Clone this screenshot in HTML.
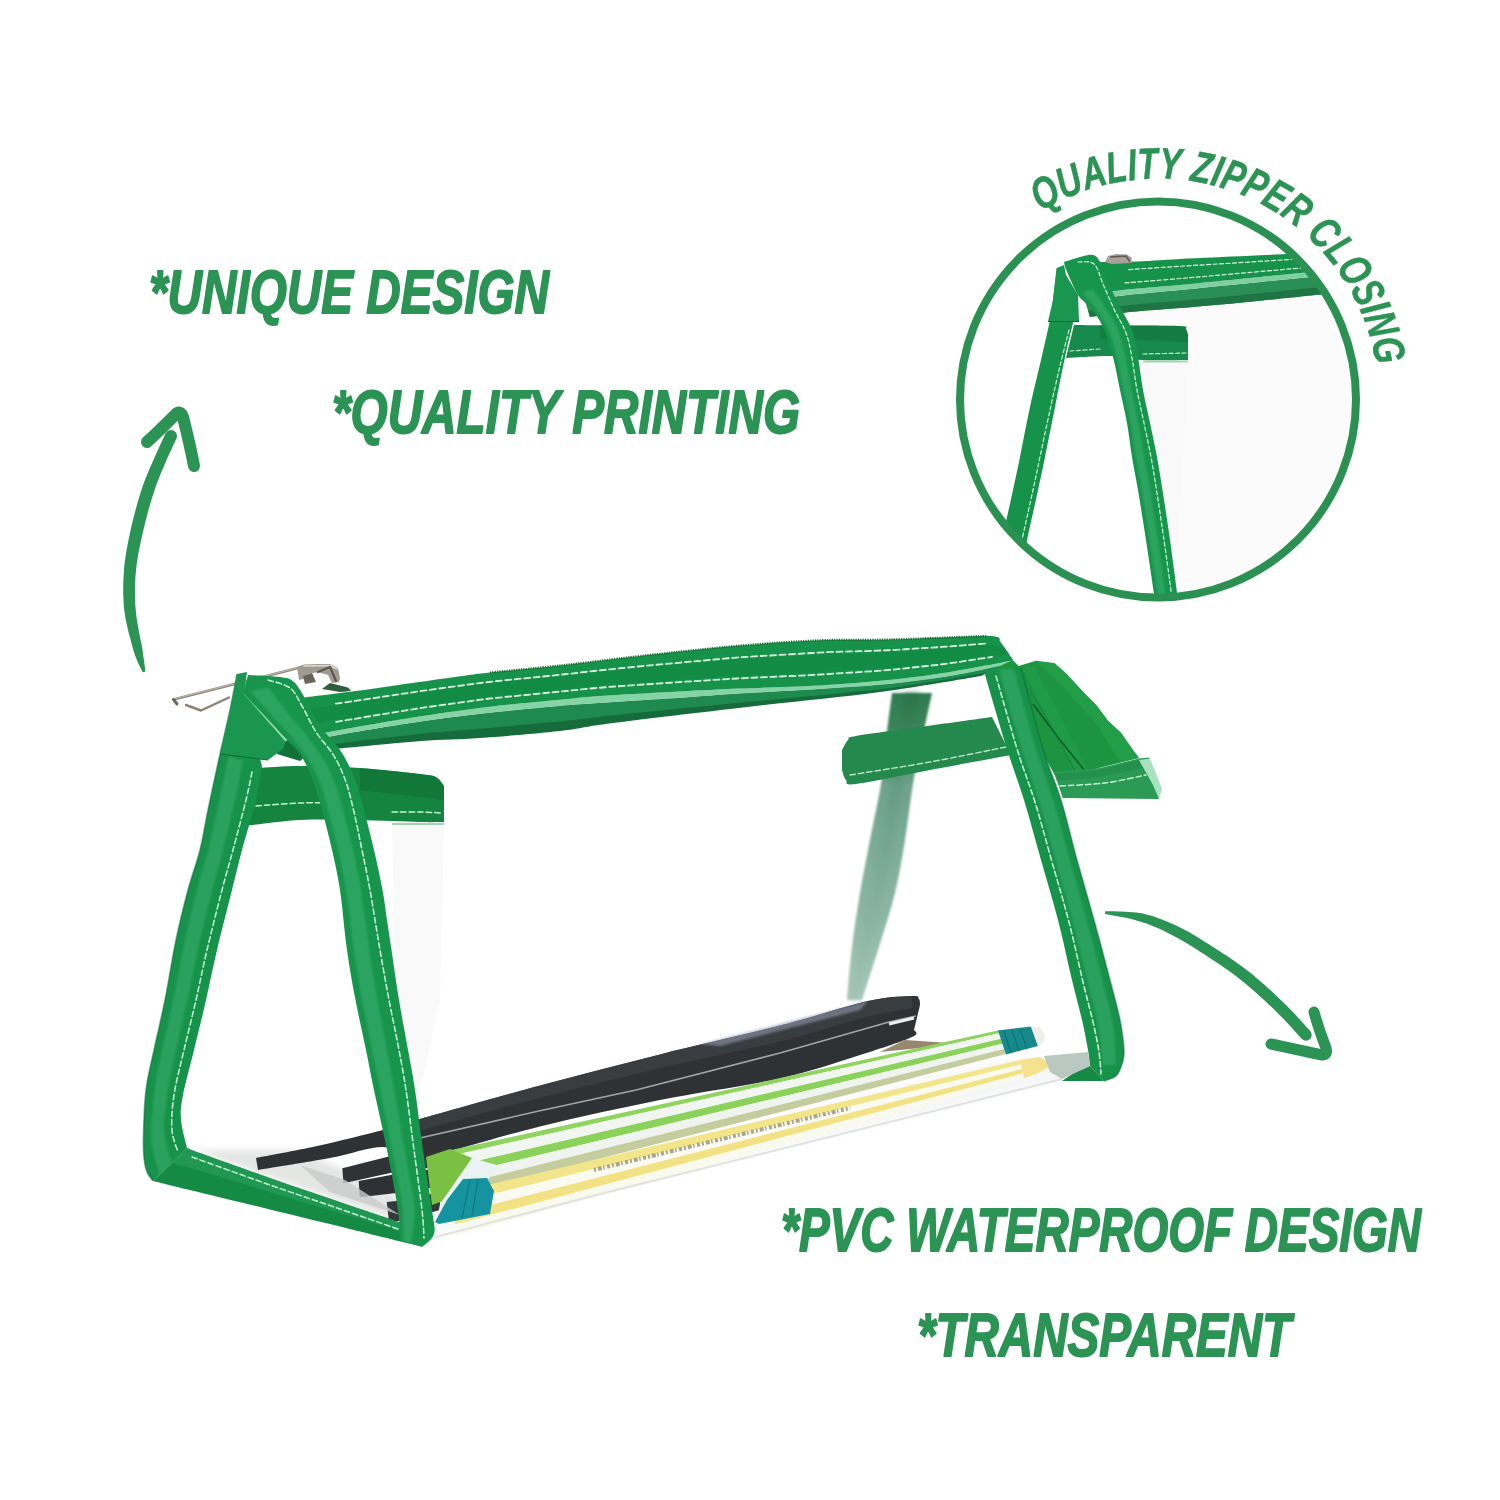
<!DOCTYPE html>
<html>
<head>
<meta charset="utf-8">
<title>Clear PVC pencil case</title>
<style>
html,body{margin:0;padding:0;background:#fff;}
body{width:1500px;height:1500px;overflow:hidden;font-family:"Liberation Sans",sans-serif;}
svg{display:block;}
.t{font-family:"Liberation Sans",sans-serif;font-weight:bold;font-style:italic;fill:#2b9354;stroke:#2b9354;stroke-width:1.8px;stroke-linejoin:round;}
</style>
</head>
<body>
<svg width="1500" height="1500" viewBox="0 0 1500 1500">
<defs>
  <filter id="blur3" x="-20%" y="-20%" width="140%" height="140%"><feGaussianBlur stdDeviation="3"/></filter>
  <filter id="blur6" x="-20%" y="-20%" width="140%" height="140%"><feGaussianBlur stdDeviation="6"/></filter>
  <filter id="blur1" x="-20%" y="-20%" width="140%" height="140%"><feGaussianBlur stdDeviation="1.2"/></filter>
  <linearGradient id="gSeam" gradientUnits="userSpaceOnUse" x1="0" y1="693" x2="0" y2="1000">
    <stop offset="0" stop-color="#2f7c50"/><stop offset="0.16" stop-color="#3f8a60"/><stop offset="0.3" stop-color="#6ea28c"/><stop offset="0.75" stop-color="#8fb8a6"/><stop offset="1" stop-color="#a9c9bb"/>
  </linearGradient>
  <linearGradient id="gSeam2" gradientUnits="userSpaceOnUse" x1="0" y1="693" x2="0" y2="1000">
    <stop offset="0" stop-color="#256e44"/><stop offset="0.3" stop-color="#5f9780"/><stop offset="1" stop-color="#9dc0b1"/>
  </linearGradient>
  <clipPath id="circClip"><circle cx="1158" cy="399.5" r="198"/></clipPath>
</defs>
<rect width="1500" height="1500" fill="#ffffff"/>
<g id="bag">
  <!-- pvc faint shading -->
  <path d="M432.0,1235.0 L1062.0,1080.0 L1088.0,1056.0 L1000.0,1060.0 L440.0,1200.0 Z" fill="#eef1ef" opacity=".55" filter="url(#blur3)"/>
  <path d="M190.0,1150.0 L400.0,1222.0 L398.0,1195.0 L300.0,1150.0 Z" fill="#d9dcda" opacity=".7" filter="url(#blur3)"/>
  <!-- back seam -->
  <path d="M892.0,693.0 C891.0,700.8 887.8,724.8 886.0,740.0 C884.2,755.2 883.7,767.3 881.0,784.0 C878.3,800.7 873.5,821.8 870.0,840.0 C866.5,858.2 863.0,875.2 860.0,893.0 C857.0,910.8 854.2,929.2 852.0,947.0 C849.8,964.8 847.8,991.2 847.0,1000.0 L862.0,1000.0 C864.8,991.2 873.5,964.8 879.0,947.0 C884.5,929.2 890.7,910.8 895.0,893.0 C899.3,875.2 902.0,858.2 905.0,840.0 C908.0,821.8 910.2,800.7 913.0,784.0 C915.8,767.3 918.8,755.2 922.0,740.0 C925.2,724.8 930.3,700.8 932.0,693.0 Z" fill="url(#gSeam)" filter="url(#blur1)"/>
  <path d="M904.0,693.0 C902.8,700.8 899.0,724.8 896.8,740.0 C894.6,755.2 893.3,767.3 890.6,784.0 C887.9,800.7 883.9,821.8 880.5,840.0 C877.1,858.2 873.9,875.2 870.5,893.0 C867.1,910.8 863.3,929.2 860.1,947.0 C856.9,964.8 852.9,991.2 851.5,1000.0 L857.5,1000.0 C859.7,991.2 866.4,964.8 870.9,947.0 C875.4,929.2 880.6,910.8 884.5,893.0 C888.4,875.2 891.4,858.2 894.5,840.0 C897.6,821.8 900.6,800.7 903.4,784.0 C906.2,767.3 908.4,755.2 911.2,740.0 C914.0,724.8 918.5,700.8 920.0,693.0 Z" fill="url(#gSeam2)" filter="url(#blur3)" opacity=".6"/>
  <!-- contents -->
  <path d="M256.0,1158.0 C266.2,1156.0 295.8,1150.7 317.0,1146.0 C338.2,1141.3 365.8,1134.5 383.0,1130.0 C400.2,1125.5 393.8,1126.4 420.0,1119.0 C446.2,1111.6 500.0,1096.4 540.0,1085.6 C580.0,1074.8 620.0,1064.4 660.0,1054.4 C700.0,1044.4 745.3,1034.5 780.0,1025.6 C814.7,1016.7 846.0,1005.9 868.0,1001.0 C890.0,996.1 903.5,996.3 912.0,996.0 C920.5,995.7 917.7,997.5 919.0,999.0 C920.3,1000.5 919.8,1004.0 920.0,1005.0 L914.0,1030.0 C913.7,1031.2 921.0,1032.8 912.0,1037.0 C903.0,1041.2 882.0,1048.1 860.0,1055.0 C838.0,1061.9 813.3,1070.9 780.0,1078.4 C746.7,1085.9 700.0,1092.0 660.0,1100.0 C620.0,1108.0 580.0,1116.8 540.0,1126.4 C500.0,1136.0 446.2,1154.2 420.0,1157.6 C393.8,1161.0 398.0,1146.9 383.0,1147.0 C368.0,1147.1 350.8,1154.2 330.0,1158.0 C309.2,1161.8 270.0,1168.0 258.0,1170.0 Z" fill="#2f3235"/>
  <path d="M420.0,1119.0 C440.0,1113.4 500.0,1096.4 540.0,1085.6 C580.0,1074.8 620.0,1064.4 660.0,1054.4 C700.0,1044.4 745.3,1034.5 780.0,1025.6 C814.7,1016.7 846.0,1005.9 868.0,1001.0 C890.0,996.1 904.7,996.8 912.0,996.0 L912.0,1008.3 C904.3,1009.8 887.6,1011.7 865.6,1017.2 C843.6,1022.7 814.3,1033.0 780.0,1041.4 C745.7,1049.9 700.0,1058.7 660.0,1068.1 C620.0,1077.5 580.0,1087.4 540.0,1097.8 C500.0,1108.3 440.0,1125.1 420.0,1130.6 Z" fill="#3d4044" opacity=".8"/>
  <path d="M420,1138 L540,1110.8 L636,1090 L780,1053 L889,1022 L916,1016" fill="none" stroke="#c9cccd" stroke-width="1.6" opacity=".75"/>
  <path d="M889,1024 L914,1018" fill="none" stroke="#eeeeee" stroke-width="3"/>
  <path d="M905.0,1040.0 L950.0,1043.0 L930.0,1047.0 L880.0,1052.0 Z" fill="#7a6a4a" opacity=".8"/>
  <path d="M700.0,1044.0 L868.0,1001.0 L860.0,1010.0 L720.0,1046.0 Z" fill="#9aa0b8" opacity=".55" filter="url(#blur1)"/>
  <path d="M342.3,1168.2 L393.7,1155.3 L440.0,1150.0 L442.0,1166.0 L396.0,1171.7 L343.5,1183.3 Z" fill="#303336"/>
  <path d="M358.7,1181.0 L396.0,1174.0 L440.0,1168.0 L442.0,1186.0 L398.3,1192.7 L359.8,1197.3 Z" fill="#2e3134"/>
  <path d="M386.7,1202.0 L398.3,1200.8 L440.0,1192.0 L440.0,1210.0 L400.7,1220.7 L389.0,1221.8 Z" fill="#36393c"/>
  <path d="M300.0,1165.0 L345.0,1180.0 L400.0,1215.0 L330.0,1192.0 Z" fill="#c9ccca" opacity=".8"/>
  <path d="M440.0,1152.6 L1000.0,1030.0 L1000.7,1032.9 L441.4,1157.9 Z" fill="#8fd45f"/>
  <path d="M441.4,1157.9 L1000.7,1032.9 L1002.2,1038.6 L444.3,1168.5 Z" fill="#f1f6f0"/>
  <path d="M444.3,1168.5 L1002.2,1038.6 L1003.4,1043.4 L446.7,1177.3 Z" fill="#8ad25a"/>
  <path d="M446.7,1177.3 L1003.4,1043.4 L1004.7,1048.7 L449.4,1187.0 Z" fill="#eff4ee"/>
  <path d="M449.4,1187.0 L1004.7,1048.7 L1006.0,1054.0 L452.0,1196.7 Z" fill="#c5cc9e"/>
  <path d="M998.0,1030.5 L1031.0,1026.5 L1038.0,1046.0 L1006.0,1054.5 Z" fill="#15898c"/>
  <path d="M1004,1031 L1011,1053 M1012,1030 L1019,1051 M1020,1029 L1027,1049" fill="none" stroke="#0f7276" stroke-width="1.2"/>
  <path d="M1031.0,1026.5 L1040.0,1027.0 L1045.0,1036.0 L1043.0,1043.0 L1038.0,1046.0 Z" fill="#efeee9"/>
  <path d="M452.0,1193.3 L1020.0,1060.0 L1021.0,1064.5 L453.0,1203.8 Z" fill="#f3e58a"/>
  <path d="M453.0,1203.8 L1021.0,1064.5 L1022.0,1069.0 L454.0,1214.4 Z" fill="#fbfaf0"/>
  <path d="M454.0,1214.4 L1022.0,1069.0 L1023.0,1073.3 L455.0,1224.5 Z" fill="#f2e283"/>
  <path d="M455.0,1224.5 L1023.0,1073.3 L1024.0,1078.0 L456.0,1235.5 Z" fill="#faf9ee"/>
  <path d="M1020.0,1060.0 L1040.0,1057.0 L1053.0,1065.0 L1036.0,1074.0 L1024.0,1078.0 Z" fill="#f4e28c"/>
  <path d="M594,1170 L850,1108" fill="none" stroke="#7d7a60" stroke-width="4" stroke-dasharray="2 2 4 1.5 1.5 2.5 3 2" opacity=".65"/>
  <path d="M426.0,1157.0 L450.0,1149.0 L472.0,1158.0 L446.0,1200.0 L432.0,1205.0 Z" fill="#7ac143"/>
  <path d="M440.0,1204.0 L472.0,1158.0 L500.0,1166.0 L470.0,1200.0 L436.0,1226.0 Z" fill="#eaf3f1"/>
  <path d="M435.0,1222.0 L447.0,1200.0 L463.0,1179.0 L487.0,1178.0 L494.0,1191.0 L490.0,1214.0 L439.0,1224.0 Z" fill="#1594a0"/>
  <path d="M470,1180 L462,1218 M478,1179 L472,1216" fill="none" stroke="#0f7880" stroke-width="1.2"/>
  <path d="M432,1238 L600,1194 L1062,1079" fill="none" stroke="#dfe3e0" stroke-width="2"/>
  <!-- zipper-end fabric -->
  <path d="M985.0,660.0 L1000.0,648.0 L1018.7,666.0 L1036.0,660.7 L1054.7,663.3 L1066.7,674.0 L1084.0,692.7 L1096.0,704.7 L1108.0,720.7 L1121.0,732.7 L1133.0,750.0 L1139.0,758.0 L1086.7,771.0 L1054.7,775.0 L1030.0,730.0 L990.0,675.0 Z" fill="#1c9442"/>
  <path d="M1036.0,660.7 L1054.7,663.3 L1066.7,674.0 L1084.0,692.7 L1096.0,704.7 L1108.0,720.7 L1121.0,732.7 L1133.0,750.0 L1139.0,758.0 L1120.0,762.0 L1095.0,722.0 L1066.0,690.0 Z" fill="#27a24c" opacity=".65"/>
  <path d="M1022.0,668.0 L1034.0,666.0 L1088.0,770.0 L1076.0,772.0 Z" fill="#23a04e" opacity=".55"/>
  <path d="M1033,704 L1060,740 L1085,771" fill="none" stroke="#0d5a26" stroke-width="1.5"/>
  <path d="M1030,690 L1052,728 L1076,772" fill="none" stroke="#137a36" stroke-width="1.2" stroke-dasharray="1.5 1.5"/>
  <path d="M1054.0,772.0 L1100.0,768.0 L1139.0,758.5 L1149.0,757.5 L1161.0,788.7 L1158.7,799.0 L1062.7,798.0 Z" fill="#2a9a55"/>
  <path d="M1054.0,774.0 L1100.0,770.0 L1139.0,760.0 L1142.0,768.0 L1100.0,777.0 L1057.0,781.0 Z" fill="#1f8a49" opacity=".6"/>
  <path d="M1139.0,760.0 L1150.0,758.5 L1162.0,788.7 L1159.0,799.0 L1153.0,785.0 Z" fill="#a9e2c0"/>
  <path d="M1060.0,786.0 C1067.5,785.5 1090.7,784.8 1105.0,783.0 C1119.3,781.2 1139.2,776.3 1146.0,775.0" fill="none" stroke="#c4f5d6" stroke-width="1.5" stroke-dasharray="5.5 3" stroke-linecap="round"/>
  <!-- handles -->
  <path d="M258.0,768.0 C265.0,767.7 283.0,766.0 300.0,766.0 C317.0,766.0 340.0,766.7 360.0,768.0 C380.0,769.3 407.3,772.5 420.0,774.0 C432.7,775.5 432.0,775.0 436.0,777.0 C440.0,779.0 442.7,784.5 444.0,786.0 L444.0,822.0 C440.0,822.0 434.0,822.3 420.0,822.0 C406.0,821.7 380.0,820.3 360.0,820.0 C340.0,819.7 319.3,819.0 300.0,820.0 C280.7,821.0 253.3,825.0 244.0,826.0 Z" fill="#14843f"/>
  <path d="M360.0,768.0 L420.0,774.0 L436.0,777.0 L444.0,786.0 L444.0,800.0 L360.0,790.0 Z" fill="#0f6f35" opacity=".55"/>
  <path d="M256.0,806.0 C263.3,805.5 286.0,803.5 300.0,803.0 C314.0,802.5 333.3,803.0 340.0,803.0" fill="none" stroke="#c4f5d6" stroke-width="1.5" stroke-dasharray="5.5 3" stroke-linecap="round"/>
  <path d="M392.0,812.0 C396.7,812.0 411.7,811.8 420.0,812.0 C428.3,812.2 438.3,812.8 442.0,813.0" fill="none" stroke="#c4f5d6" stroke-width="1.5" stroke-dasharray="5.5 3" stroke-linecap="round"/>
  <path d="M392,824 L444,824" fill="none" stroke="#9fd5b0" stroke-width="2"/>
  <path d="M392.0,826.0 L444.0,826.0 L440.0,1000.0 L400.0,1180.0 Z" fill="#f3f5f4" opacity=".6"/>
  <path d="M842.0,750.0 C843.0,748.3 845.7,742.3 848.0,740.0 C850.3,737.7 844.0,738.2 856.0,736.0 C868.0,733.8 897.3,730.2 920.0,727.0 C942.7,723.8 980.0,718.7 992.0,717.0 L1011.0,755.0 C997.5,757.5 955.8,765.2 930.0,770.0 C904.2,774.8 870.0,782.3 856.0,784.0 C842.0,785.7 848.3,782.3 846.0,780.0 C843.7,777.7 842.7,771.7 842.0,770.0 Z" fill="#23894c"/>
  <path d="M850.0,775.0 C863.3,772.8 904.0,766.7 930.0,762.0 C956.0,757.3 993.3,749.5 1006.0,747.0" fill="none" stroke="#b5e3c2" stroke-width="1.5" stroke-dasharray="5.5 3" stroke-linecap="round"/>
  <!-- top strip -->
  <path d="M300.0,743.0 C306.9,741.6 321.4,738.1 341.6,734.5 C361.8,730.9 396.3,725.1 421.0,721.5 C445.7,717.9 466.8,715.4 490.0,712.8 C513.2,710.2 541.7,707.5 560.0,705.9 C578.3,704.3 577.8,704.5 600.0,703.0 C622.2,701.5 669.7,698.6 693.0,697.0 C716.3,695.4 718.8,694.9 740.0,693.6 C761.2,692.3 795.2,690.6 820.0,689.0 C844.8,687.4 867.3,686.2 889.0,684.0 C910.7,681.8 931.5,679.0 950.0,676.0 C968.5,673.0 991.7,667.7 1000.0,666.0 L981.0,676.0 C964.2,678.7 919.0,686.8 880.0,692.0 C841.0,697.2 791.5,701.8 747.0,707.0 C702.5,712.2 644.2,719.0 613.0,723.0 C581.8,727.0 582.2,728.5 560.0,731.0 C537.8,733.5 503.2,736.3 480.0,738.0 C456.8,739.7 442.7,739.4 421.0,741.0 C399.3,742.6 370.2,745.7 350.0,747.5 C329.8,749.3 308.3,751.2 300.0,752.0 Z" fill="#166b3a"/>
  <path d="M300.0,743.0 C303.0,742.4 311.8,740.6 317.7,739.4 C323.6,738.2 329.5,736.9 335.4,735.8 C341.3,734.6 347.3,733.6 353.2,732.6 C359.2,731.6 365.1,730.7 371.1,729.7 C377.0,728.7 383.0,727.7 388.9,726.8 C394.8,725.8 400.8,724.8 406.7,723.8 C412.7,722.9 418.6,721.9 424.6,721.0 C430.6,720.2 436.6,719.5 442.5,718.8 C448.5,718.0 454.5,717.3 460.5,716.5 C466.5,715.8 472.4,715.0 478.4,714.3 C484.4,713.5 490.4,712.8 496.4,712.2 C502.4,711.5 508.4,711.0 514.4,710.4 C520.4,709.8 526.4,709.2 532.3,708.6 C538.3,708.0 544.3,707.4 550.3,706.9 C556.3,706.3 562.3,705.8 568.3,705.3 C574.4,704.8 580.4,704.4 586.4,704.0 C592.4,703.6 598.4,703.1 604.4,702.7 C610.4,702.3 616.4,701.9 622.5,701.6 C628.5,701.2 634.5,700.8 640.5,700.4 C646.5,700.0 652.5,699.6 658.5,699.2 C664.5,698.8 670.6,698.4 676.6,698.1 C682.6,697.7 688.6,697.3 694.6,696.9 C700.6,696.5 706.6,696.0 712.6,695.6 C718.7,695.1 724.7,694.7 730.7,694.3 C736.7,693.9 742.7,693.5 748.7,693.1 C754.7,692.7 760.7,692.4 766.8,692.1 C772.8,691.7 778.8,691.4 784.8,691.0 C790.8,690.7 796.8,690.3 802.9,690.0 C808.9,689.6 814.9,689.3 820.9,688.9 C826.9,688.5 832.9,688.1 838.9,687.6 C845.0,687.2 851.0,686.8 857.0,686.3 C863.0,685.9 869.0,685.5 875.0,685.0 C881.0,684.5 887.0,684.1 893.0,683.5 C899.0,682.8 905.0,681.9 910.9,681.1 C916.9,680.3 922.9,679.6 928.9,678.8 C934.8,678.0 940.8,677.4 946.8,676.4 C952.7,675.5 958.6,674.2 964.5,673.1 C970.5,671.9 976.4,670.7 982.3,669.5 C988.2,668.4 997.0,666.6 1000.0,666.0 L988.2,672.2 C985.3,672.7 976.6,674.2 970.7,675.3 C964.9,676.3 959.1,677.3 953.2,678.3 C947.4,679.3 941.6,680.3 935.7,681.3 C929.9,682.2 924.0,683.0 918.1,683.9 C912.3,684.7 906.4,685.6 900.6,686.5 C894.7,687.3 888.8,688.3 883.0,689.0 C877.1,689.7 871.2,690.2 865.3,690.8 C859.4,691.4 853.5,691.9 847.6,692.5 C841.7,693.1 835.8,693.7 829.9,694.2 C824.0,694.8 818.1,695.4 812.3,695.9 C806.4,696.5 800.5,697.0 794.6,697.6 C788.7,698.1 782.8,698.6 776.9,699.2 C771.0,699.7 765.1,700.3 759.2,700.8 C753.3,701.3 747.4,701.9 741.5,702.5 C735.6,703.0 729.7,703.6 723.8,704.2 C717.9,704.8 712.0,705.4 706.2,706.0 C700.3,706.6 694.4,707.2 688.5,707.8 C682.6,708.4 676.7,708.9 670.8,709.5 C664.9,710.1 659.0,710.7 653.1,711.2 C647.2,711.8 641.3,712.4 635.5,713.0 C629.6,713.6 623.7,714.1 617.8,714.7 C611.9,715.3 606.0,716.1 600.1,716.7 C594.3,717.4 588.4,718.1 582.5,718.9 C576.6,719.6 570.8,720.3 564.9,721.0 C559.0,721.6 553.1,722.1 547.2,722.6 C541.3,723.2 535.4,723.7 529.5,724.2 C523.6,724.8 517.7,725.3 511.8,725.9 C505.9,726.4 500.0,727.0 494.1,727.5 C488.2,728.0 482.3,728.6 476.4,729.1 C470.5,729.6 464.6,730.1 458.7,730.5 C452.8,731.0 446.9,731.5 441.0,732.0 C435.1,732.4 429.2,732.8 423.3,733.4 C417.4,733.9 411.6,734.7 405.7,735.4 C399.8,736.1 393.9,736.8 388.1,737.5 C382.2,738.2 376.3,738.9 370.4,739.6 C364.5,740.3 358.7,741.0 352.8,741.7 C346.9,742.4 341.0,743.1 335.2,743.9 C329.3,744.6 323.4,745.4 317.6,746.2 C311.7,747.0 302.9,748.2 300.0,748.6 Z" fill="#1f8a4e"/>
  <path d="M300.0,738.0 C306.7,736.7 319.8,733.6 340.0,730.0 C360.2,726.4 396.0,720.2 421.0,716.3 C446.0,712.4 466.8,709.5 490.0,706.7 C513.2,704.0 541.7,701.6 560.0,699.8 C578.3,698.0 580.0,697.4 600.0,696.0 C620.0,694.6 656.7,692.8 680.0,691.5 C703.3,690.2 716.7,689.5 740.0,688.5 C763.3,687.5 795.2,686.9 820.0,685.5 C844.8,684.1 867.3,682.2 889.0,680.0 C910.7,677.8 929.3,675.3 950.0,672.0 C970.7,668.7 1002.5,662.0 1013.0,660.0 L1000.0,666.0 C991.7,667.7 968.5,673.0 950.0,676.0 C931.5,679.0 910.7,681.8 889.0,684.0 C867.3,686.2 844.8,687.4 820.0,689.0 C795.2,690.6 761.2,692.3 740.0,693.6 C718.8,694.9 716.3,695.4 693.0,697.0 C669.7,698.6 622.2,701.5 600.0,703.0 C577.8,704.5 578.3,704.3 560.0,705.9 C541.7,707.5 513.2,710.2 490.0,712.8 C466.8,715.4 445.7,717.9 421.0,721.5 C396.3,725.1 361.8,730.9 341.6,734.5 C321.4,738.1 306.9,741.6 300.0,743.0 Z" fill="#86d4a6"/>
  <path d="M300.0,698.0 C308.7,696.9 335.3,693.7 352.0,691.5 C368.7,689.3 383.7,687.0 400.0,684.7 C416.3,682.4 435.0,679.7 450.0,677.7 C465.0,675.7 471.7,674.5 490.0,672.5 C508.3,670.5 535.0,668.2 560.0,665.5 C585.0,662.8 610.0,659.3 640.0,656.0 C670.0,652.7 710.0,648.2 740.0,645.6 C770.0,643.0 795.2,641.3 820.0,640.3 C844.8,639.3 861.2,640.2 889.0,639.5 C916.8,638.8 968.5,635.8 987.0,636.0 C1005.5,636.2 997.8,640.2 1000.0,641.0 L1013.0,660.0 C1002.5,662.0 970.7,668.7 950.0,672.0 C929.3,675.3 910.7,677.8 889.0,680.0 C867.3,682.2 844.8,684.1 820.0,685.5 C795.2,686.9 763.3,687.5 740.0,688.5 C716.7,689.5 703.3,690.2 680.0,691.5 C656.7,692.8 620.0,694.6 600.0,696.0 C580.0,697.4 578.3,698.0 560.0,699.8 C541.7,701.6 513.2,704.0 490.0,706.7 C466.8,709.5 446.0,712.4 421.0,716.3 C396.0,720.2 360.2,726.4 340.0,730.0 C319.8,733.6 306.7,736.7 300.0,738.0 Z" fill="#17924a"/>
  <path d="M300.0,710.8 C303.0,710.4 312.0,709.0 318.0,708.1 C324.0,707.2 329.9,706.3 335.9,705.4 C341.9,704.6 347.9,703.8 353.9,702.9 C359.9,702.0 365.9,701.1 371.9,700.2 C377.9,699.3 383.9,698.4 389.9,697.5 C395.8,696.6 401.8,695.7 407.8,694.8 C413.8,693.9 419.8,693.0 425.8,692.1 C431.8,691.3 437.8,690.5 443.8,689.6 C449.8,688.8 455.8,688.0 461.8,687.2 C467.8,686.4 473.8,685.5 479.8,684.8 C485.8,684.0 491.9,683.3 497.9,682.7 C503.9,682.0 509.9,681.5 516.0,680.9 C522.0,680.3 528.0,679.7 534.0,679.1 C540.1,678.5 546.1,677.9 552.1,677.3 C558.2,676.6 564.2,676.0 570.2,675.4 C576.2,674.7 582.2,674.0 588.3,673.4 C594.3,672.7 600.3,672.1 606.3,671.5 C612.4,670.9 618.4,670.3 624.4,669.7 C630.4,669.1 636.5,668.5 642.5,667.9 C648.5,667.4 654.6,666.9 660.6,666.3 C666.6,665.8 672.7,665.3 678.7,664.7 C684.7,664.2 690.8,663.7 696.8,663.2 C702.8,662.6 708.9,662.1 714.9,661.6 C720.9,661.1 727.0,660.5 733.0,660.0 C739.0,659.6 745.1,659.1 751.1,658.7 C757.2,658.4 763.2,658.1 769.3,657.7 C775.3,657.4 781.4,657.0 787.4,656.7 C793.5,656.3 799.5,656.0 805.6,655.7 C811.6,655.3 817.6,654.8 823.7,654.5 C829.7,654.2 835.8,654.1 841.8,653.9 C847.9,653.7 853.9,653.5 860.0,653.3 C866.0,653.1 872.1,652.9 878.1,652.7 C884.2,652.4 890.2,652.1 896.3,651.7 C902.3,651.4 908.4,650.9 914.4,650.5 C920.4,650.1 926.5,649.8 932.5,649.3 C938.5,648.9 944.6,648.4 950.6,648.0 C956.6,647.5 962.6,646.9 968.7,646.4 C974.7,645.9 980.8,644.8 986.7,644.9 C992.6,645.0 1001.3,646.7 1004.2,647.1 L1009.1,654.3 C1006.1,654.5 997.3,654.7 991.3,655.3 C985.3,655.9 979.2,657.0 973.2,657.9 C967.2,658.7 961.2,659.7 955.1,660.5 C949.1,661.3 943.1,662.0 937.0,662.7 C930.9,663.4 924.9,663.9 918.8,664.6 C912.7,665.2 906.7,665.8 900.6,666.4 C894.5,667.0 888.5,667.6 882.4,668.1 C876.3,668.5 870.2,668.8 864.1,669.2 C858.0,669.5 851.9,669.9 845.9,670.3 C839.8,670.6 833.7,671.0 827.6,671.3 C821.5,671.7 815.4,672.2 809.3,672.5 C803.2,672.8 797.1,673.1 791.0,673.3 C784.9,673.6 778.8,673.9 772.7,674.2 C766.6,674.5 760.5,674.7 754.5,675.0 C748.4,675.3 742.3,675.6 736.2,676.0 C730.1,676.3 724.0,676.8 717.9,677.2 C711.8,677.6 705.7,678.0 699.6,678.4 C693.6,678.8 687.5,679.2 681.4,679.6 C675.3,680.0 669.2,680.4 663.1,680.9 C657.0,681.3 650.9,681.7 644.9,682.1 C638.8,682.6 632.7,683.1 626.6,683.5 C620.5,684.0 614.4,684.4 608.4,684.9 C602.3,685.4 596.2,685.9 590.1,686.5 C584.0,687.0 578.0,687.7 571.9,688.3 C565.8,688.9 559.8,689.5 553.7,690.1 C547.6,690.7 541.5,691.3 535.5,691.9 C529.4,692.5 523.3,693.1 517.2,693.7 C511.2,694.3 505.1,694.9 499.0,695.5 C493.0,696.2 486.9,696.9 480.8,697.7 C474.8,698.5 468.7,699.3 462.7,700.2 C456.7,701.0 450.6,701.8 444.6,702.7 C438.5,703.5 432.5,704.3 426.4,705.2 C420.4,706.1 414.4,707.0 408.3,708.0 C402.3,708.9 396.3,709.9 390.3,710.9 C384.2,711.8 378.2,712.8 372.2,713.8 C366.2,714.7 360.1,715.7 354.1,716.7 C348.1,717.7 342.0,718.6 336.0,719.6 C330.0,720.6 324.0,721.7 318.0,722.8 C312.0,723.9 303.0,725.5 300.0,726.0 Z" fill="#0f8541" opacity=".55"/>
  <path d="M335.9,703.6 C338.9,703.2 347.9,701.9 353.9,701.1 C359.9,700.2 365.9,699.3 371.8,698.4 C377.8,697.5 383.8,696.6 389.8,695.7 C395.8,694.8 401.8,693.9 407.8,693.0 C413.7,692.2 419.7,691.3 425.7,690.4 C431.7,689.6 437.7,688.7 443.7,687.9 C449.7,687.1 455.7,686.3 461.7,685.5 C467.7,684.7 473.7,683.8 479.7,683.1 C485.7,682.3 491.7,681.6 497.7,681.0 C503.7,680.3 509.8,679.8 515.8,679.2 C521.8,678.6 527.8,678.0 533.9,677.4 C539.9,676.8 545.9,676.2 551.9,675.6 C557.9,674.9 564.0,674.3 570.0,673.7 C576.0,673.0 582.0,672.3 588.0,671.6 C594.0,671.0 600.1,670.3 606.1,669.7 C612.1,669.1 618.1,668.5 624.1,667.9 C630.2,667.3 636.2,666.6 642.2,666.1 C648.2,665.5 654.2,665.0 660.3,664.4 C666.3,663.9 672.3,663.3 678.3,662.8 C684.4,662.2 690.4,661.7 696.4,661.2 C702.4,660.6 708.5,660.1 714.5,659.5 C720.5,659.0 726.6,658.4 732.6,657.9 C738.6,657.4 744.6,657.0 750.7,656.6 C756.7,656.2 762.8,655.9 768.8,655.6 C774.8,655.2 780.9,654.8 786.9,654.5 C793.0,654.1 799.0,653.8 805.1,653.4 C811.1,653.1 817.1,652.6 823.2,652.3 C829.2,652.0 835.3,651.9 841.3,651.7 C847.4,651.5 853.4,651.4 859.5,651.2 C865.5,651.0 871.5,650.9 877.6,650.6 C883.6,650.4 889.7,650.1 895.7,649.8 C901.7,649.5 907.8,649.1 913.8,648.7 C919.8,648.3 925.9,648.0 931.9,647.6 C937.9,647.2 944.0,646.8 950.0,646.3 C956.0,645.9 962.0,645.4 968.1,644.9 C974.1,644.5 983.1,643.8 986.1,643.5" fill="none" stroke="#d9f3e0" stroke-width="1.8" stroke-dasharray="6 3.5" stroke-linecap="round"/>
  <path d="M336.1,721.8 C339.1,721.3 348.1,719.9 354.1,718.9 C360.2,717.9 366.2,716.9 372.2,715.9 C378.3,714.9 384.3,714.0 390.3,713.0 C396.4,712.0 402.4,711.0 408.4,710.0 C414.4,709.1 420.5,708.1 426.5,707.2 C432.6,706.4 438.6,705.5 444.7,704.7 C450.7,703.9 456.8,703.0 462.8,702.2 C468.9,701.4 474.9,700.5 481.0,699.7 C487.1,698.9 493.1,698.2 499.2,697.6 C505.3,696.9 511.4,696.4 517.4,695.8 C523.5,695.2 529.6,694.6 535.7,694.0 C541.8,693.4 547.9,692.8 553.9,692.2 C560.0,691.6 566.1,691.0 572.2,690.4 C578.3,689.8 584.3,689.1 590.4,688.5 C596.5,688.0 602.6,687.5 608.7,687.0 C614.8,686.5 620.9,686.1 627.0,685.7 C633.0,685.3 639.1,684.8 645.2,684.4 C651.3,684.0 657.4,683.6 663.5,683.2 C669.6,682.7 675.7,682.3 681.8,681.9 C687.9,681.5 694.0,681.2 700.1,680.8 C706.2,680.4 712.3,680.0 718.4,679.6 C724.5,679.3 730.6,678.8 736.7,678.5 C742.8,678.2 748.9,677.9 755.0,677.6 C761.1,677.3 767.2,677.0 773.3,676.8 C779.4,676.5 785.5,676.2 791.6,676.0 C797.7,675.7 803.8,675.5 809.9,675.2 C816.0,674.8 822.1,674.4 828.2,674.0 C834.3,673.6 840.4,673.2 846.5,672.8 C852.6,672.5 858.7,672.1 864.8,671.7 C870.9,671.3 877.0,671.0 883.1,670.5 C889.2,670.0 895.2,669.4 901.3,668.8 C907.4,668.1 913.4,667.4 919.5,666.8 C925.6,666.1 931.6,665.5 937.7,664.8 C943.8,664.1 949.8,663.3 955.9,662.4 C961.9,661.6 967.9,660.6 973.9,659.7 C980.0,658.7 989.0,657.4 992.0,656.9" fill="none" stroke="#d9f3e0" stroke-width="1.8" stroke-dasharray="6 3.5" stroke-linecap="round"/>
  <path d="M490.0,672.5 C501.7,671.3 535.0,668.2 560.0,665.5 C585.0,662.8 610.0,659.3 640.0,656.0 C670.0,652.7 710.0,648.2 740.0,645.6 C770.0,643.0 795.2,641.3 820.0,640.3 C844.8,639.3 861.2,640.2 889.0,639.5 C916.8,638.8 970.7,636.6 987.0,636.0" fill="none" stroke="#15692e" stroke-width="2.2" stroke-dasharray="1.2 1.2"/>
  <!-- zipper pull -->
  <path d="M173.5,699.5 L300,667.5" fill="none" stroke="#8b8378" stroke-width="2.6" stroke-linecap="round"/>
  <path d="M174,699 L299,667.5" fill="none" stroke="#d9d4cc" stroke-width="0.9" stroke-linecap="round" opacity=".8"/>
  <path d="M186,705 L201,710.5 L229,697.5" fill="none" stroke="#8b8378" stroke-width="2.4" stroke-linecap="round" stroke-linejoin="round"/>
  <path d="M173.5,699.5 L177,704" fill="none" stroke="#6f675c" stroke-width="3" stroke-linecap="round"/>
  <path d="M297.0,667.0 L304.0,664.5 L318.0,664.0 L330.0,664.0 L338.0,668.0 L340.0,678.0 L339.0,682.0 L332.0,683.0 L328.0,675.0 L318.0,672.0 L308.0,674.0 L304.0,679.0 L299.0,680.0 Z" fill="#a19a90"/>
  <path d="M304,666 L330,665.5 L337,669" fill="none" stroke="#ddd8d0" stroke-width="1.6" stroke-linecap="round"/>
  <path d="M318,672 L330,667 L336,681" fill="none" stroke="#5e564c" stroke-width="2.2" stroke-linejoin="round" stroke-linecap="round"/>
  <path d="M303.0,676.0 L312.0,673.0 L316.0,682.0 L305.0,684.0 Z" fill="#6b645a"/>
  <path d="M330.0,683.0 L348.0,687.5 L351.0,691.0 L340.0,692.0 L322.0,689.0 Z" fill="#2f5f3d"/>
  <path d="M277.0,741.0 L291.0,740.0 L306.0,756.0 L300.0,761.0 L277.0,754.0 Z" fill="#12703a"/>
  <!-- leather strips -->
  <path d="M187.0,1148.0 C189.2,1148.8 186.2,1148.0 200.0,1153.0 C213.8,1158.0 246.7,1169.8 270.0,1178.0 C293.3,1186.2 318.0,1194.5 340.0,1202.0 C362.0,1209.5 391.7,1219.5 402.0,1223.0 L420.0,1246.0 C416.0,1245.1 409.3,1243.7 396.0,1240.5 C382.7,1237.3 361.0,1231.8 340.0,1226.6 C319.0,1221.4 293.3,1215.2 270.0,1209.5 C246.7,1203.8 219.5,1197.2 200.0,1192.5 C180.5,1187.8 160.8,1182.9 153.0,1181.0 Z" fill="#158a45"/>
  <path d="M187.0,1148.0 C189.2,1148.8 186.2,1148.0 200.0,1153.0 C213.8,1158.0 246.7,1169.8 270.0,1178.0 C293.3,1186.2 318.0,1194.5 340.0,1202.0 C362.0,1209.5 391.7,1219.5 402.0,1223.0 L399.3,1230.9 C389.4,1227.9 361.6,1219.5 340.0,1213.1 C318.4,1206.6 293.3,1199.2 270.0,1192.2 C246.7,1185.1 216.4,1175.7 200.0,1170.8 C183.6,1165.9 176.4,1164.2 171.7,1162.9 Z" fill="#2aa35c" opacity=".55"/>
  <path d="M192.0,1157.0 C205.0,1161.7 245.3,1176.3 270.0,1185.0 C294.7,1193.7 318.7,1201.7 340.0,1209.0 C361.3,1216.3 388.3,1225.7 398.0,1229.0" fill="none" stroke="#c4f5d6" stroke-width="1.5" stroke-dasharray="5.5 3" stroke-linecap="round"/>
  <path d="M237.0,674.0 C235.8,680.0 232.8,696.7 230.0,710.0 C227.2,723.3 223.7,737.3 220.0,754.0 C216.3,770.7 211.3,794.0 208.0,810.0 C204.7,826.0 203.3,836.7 200.0,850.0 C196.7,863.3 192.0,875.0 188.0,890.0 C184.0,905.0 179.8,921.7 176.0,940.0 C172.2,958.3 168.7,981.7 165.0,1000.0 C161.3,1018.3 157.2,1035.0 154.0,1050.0 C150.8,1065.0 147.8,1075.8 146.0,1090.0 C144.2,1104.2 143.8,1123.7 143.5,1135.0 C143.2,1146.3 143.4,1151.8 144.0,1158.0 C144.6,1164.2 145.5,1168.2 147.0,1172.0 C148.5,1175.8 152.0,1179.5 153.0,1181.0 L187.0,1148.0 C186.0,1143.3 181.7,1128.8 181.0,1120.0 C180.3,1111.2 180.8,1106.7 183.0,1095.0 C185.2,1083.3 190.2,1065.8 194.0,1050.0 C197.8,1034.2 202.2,1016.7 206.0,1000.0 C209.8,983.3 212.7,968.3 217.0,950.0 C221.3,931.7 227.8,906.7 232.0,890.0 C236.2,873.3 238.0,865.0 242.0,850.0 C246.0,835.0 252.7,814.0 256.0,800.0 C259.3,786.0 261.0,771.7 262.0,766.0 Z" fill="#17924a"/>
  <path d="M228.4,756.4 C227.3,761.8 224.0,777.9 221.7,788.7 C219.4,799.4 217.0,810.1 214.6,820.8 C212.3,831.6 210.3,842.4 207.5,853.0 C204.8,863.6 201.2,874.0 198.3,884.6 C195.5,895.2 192.9,905.9 190.4,916.6 C187.8,927.3 185.3,938.0 183.1,948.7 C180.8,959.5 179.0,970.3 176.9,981.1 C174.7,991.9 172.6,1002.6 170.3,1013.4 C168.0,1024.1 165.4,1034.8 163.1,1045.5 C160.7,1056.3 158.1,1067.0 156.4,1077.8 C154.6,1088.6 153.4,1099.5 152.6,1110.4 C151.7,1121.3 150.1,1132.6 151.3,1143.3 C152.5,1153.9 158.4,1169.2 159.8,1174.4 L171.7,1162.8 C170.5,1157.8 165.2,1142.8 164.3,1132.4 C163.5,1122.1 165.3,1111.3 166.6,1100.9 C167.8,1090.4 169.8,1080.0 171.8,1069.7 C173.9,1059.3 176.4,1049.0 178.7,1038.7 C181.0,1028.4 183.5,1018.1 185.8,1007.8 C188.1,997.5 190.2,987.1 192.4,976.7 C194.6,966.4 196.5,956.0 198.8,945.7 C201.1,935.3 203.6,925.1 206.1,914.8 C208.6,904.5 211.1,894.2 213.8,884.0 C216.5,873.8 219.5,863.6 222.2,853.4 C224.8,843.2 227.2,832.9 229.7,822.6 C232.2,812.3 234.8,802.1 237.0,791.7 C239.3,781.4 242.1,765.8 243.1,760.6 Z" fill="#4fbd84" opacity=".35" filter="url(#blur1)"/>
  <path d="M237.0,674.0 C235.8,680.0 232.8,696.7 230.0,710.0 C227.2,723.3 223.7,737.3 220.0,754.0 C216.3,770.7 211.3,794.0 208.0,810.0 C204.7,826.0 203.3,836.7 200.0,850.0 C196.7,863.3 192.0,875.0 188.0,890.0 C184.0,905.0 179.8,921.7 176.0,940.0 C172.2,958.3 168.7,981.7 165.0,1000.0 C161.3,1018.3 157.2,1035.0 154.0,1050.0 C150.8,1065.0 147.8,1075.8 146.0,1090.0 C144.2,1104.2 143.8,1123.7 143.5,1135.0 C143.2,1146.3 143.4,1151.8 144.0,1158.0 C144.6,1164.2 145.5,1168.2 147.0,1172.0 C148.5,1175.8 152.0,1179.5 153.0,1181.0" fill="none" stroke="#0c6a34" stroke-width="1.6" opacity=".5"/>
  <path d="M252.0,772.0 C251.0,776.7 249.2,787.0 246.0,800.0 C242.8,813.0 237.0,835.0 233.0,850.0 C229.0,865.0 226.3,873.3 222.0,890.0 C217.7,906.7 211.3,931.7 207.0,950.0 C202.7,968.3 199.8,983.3 196.0,1000.0 C192.2,1016.7 187.7,1034.2 184.0,1050.0 C180.3,1065.8 176.0,1081.7 174.0,1095.0 C172.0,1108.3 171.3,1120.5 172.0,1130.0 C172.7,1139.5 177.0,1148.3 178.0,1152.0" fill="none" stroke="#c4f5d6" stroke-width="1.5" stroke-dasharray="5.5 3" stroke-linecap="round"/>
  <path d="M237.0,674.0 L247.0,672.0 L244.0,693.0 L286.0,741.0 L283.0,749.0 L268.0,760.0 L220.0,754.0 L230.0,710.0 Z" fill="#1a9650"/>
  <path d="M244,693 L286,741" fill="none" stroke="#8fd3a5" stroke-width="1.6"/>
  <path d="M220,754 L268,760" fill="none" stroke="#0e6a33" stroke-width="1.2"/>
  <path d="M248.0,675.0 C253.3,675.3 272.3,675.8 280.0,677.0 C287.7,678.2 289.7,678.2 294.0,682.0 C298.3,685.8 301.7,692.7 306.0,700.0 C310.3,707.3 314.3,717.7 320.0,726.0 C325.7,734.3 334.2,741.3 340.0,750.0 C345.8,758.7 350.5,768.0 354.5,778.0 C358.5,788.0 360.8,798.0 364.0,810.0 C367.2,822.0 370.9,836.7 374.0,850.0 C377.1,863.3 380.3,878.3 382.5,890.0 C384.7,901.7 385.5,910.0 387.0,920.0 C388.5,930.0 389.5,936.7 391.5,950.0 C393.5,963.3 396.2,983.3 399.0,1000.0 C401.8,1016.7 405.3,1035.0 408.0,1050.0 C410.7,1065.0 412.5,1073.3 415.0,1090.0 C417.5,1106.7 420.2,1130.0 423.0,1150.0 C425.8,1170.0 430.2,1196.0 432.0,1210.0 C433.8,1224.0 435.7,1227.8 434.0,1234.0 C432.3,1240.2 424.0,1244.8 422.0,1247.0 L400.0,1240.0 C399.7,1235.0 400.2,1225.0 398.0,1210.0 C395.8,1195.0 391.0,1170.0 387.0,1150.0 C383.0,1130.0 377.5,1106.7 374.0,1090.0 C370.5,1073.3 369.1,1065.0 366.0,1050.0 C362.9,1035.0 358.7,1016.7 355.5,1000.0 C352.3,983.3 349.6,968.3 347.0,950.0 C344.4,931.7 342.5,906.7 340.0,890.0 C337.5,873.3 335.0,863.3 332.0,850.0 C329.0,836.7 325.3,822.0 322.0,810.0 C318.7,798.0 315.7,787.3 312.0,778.0 C308.3,768.7 304.3,760.5 300.0,754.0 C295.7,747.5 292.3,745.8 286.0,739.0 C279.7,732.2 269.2,720.7 262.0,713.0 C254.8,705.3 246.2,696.3 243.0,693.0 Z" fill="#17954c"/>
  <path d="M250.6,691.3 C254.7,695.9 266.7,709.5 274.7,718.6 C282.8,727.6 291.8,736.1 299.0,745.8 C306.1,755.4 312.8,765.7 317.7,776.7 C322.7,787.6 325.4,799.7 328.7,811.4 C332.0,823.1 334.8,835.0 337.5,846.8 C340.2,858.7 342.8,870.6 344.9,882.5 C346.9,894.5 348.3,906.6 349.9,918.6 C351.5,930.7 352.7,942.8 354.5,954.8 C356.2,966.8 358.3,978.8 360.5,990.7 C362.6,1002.7 365.1,1014.6 367.5,1026.5 C369.8,1038.4 372.3,1050.3 374.7,1062.3 C377.1,1074.2 379.3,1086.1 381.7,1098.0 C384.1,1109.9 386.6,1121.8 389.0,1133.7 C391.3,1145.7 393.6,1157.6 395.8,1169.5 C398.0,1181.5 401.0,1193.5 402.2,1205.4 C403.4,1217.4 403.1,1235.1 403.3,1241.0 L411.0,1243.5 C411.6,1237.8 415.0,1221.0 414.6,1209.2 C414.2,1197.4 410.8,1185.0 408.7,1172.9 C406.7,1160.8 404.6,1148.8 402.5,1136.7 C400.4,1124.6 398.3,1112.6 396.2,1100.5 C394.1,1088.5 391.9,1076.4 389.7,1064.4 C387.4,1052.3 385.0,1040.3 382.7,1028.3 C380.4,1016.2 378.1,1004.2 376.0,992.1 C373.9,980.1 372.0,968.0 370.2,955.8 C368.4,943.7 366.9,931.5 365.2,919.4 C363.5,907.3 362.0,895.1 359.8,883.1 C357.7,871.0 355.0,859.0 352.3,847.1 C349.5,835.1 346.7,823.2 343.4,811.4 C340.0,799.6 337.3,787.4 332.4,776.4 C327.5,765.3 320.7,754.9 313.7,745.0 C306.8,735.0 298.2,726.1 290.7,716.6 C283.1,707.0 272.2,692.3 268.5,687.5 Z" fill="#52c088" opacity=".35" filter="url(#blur1)"/>
  <path d="M268.0,680.0 C271.7,681.3 284.3,683.7 290.0,688.0 C295.7,692.3 297.7,698.7 302.0,706.0 C306.3,713.3 310.7,723.7 316.0,732.0 C321.3,740.3 329.0,747.7 334.0,756.0 C339.0,764.3 342.7,772.7 346.0,782.0 C349.3,791.3 351.3,800.7 354.0,812.0 C356.7,823.3 359.3,837.0 362.0,850.0 C364.7,863.0 367.0,873.3 370.0,890.0 C373.0,906.7 376.8,931.7 380.0,950.0 C383.2,968.3 385.8,983.3 389.0,1000.0 C392.2,1016.7 396.2,1035.0 399.0,1050.0 C401.8,1065.0 403.5,1073.3 406.0,1090.0 C408.5,1106.7 411.3,1130.0 414.0,1150.0 C416.7,1170.0 420.3,1195.3 422.0,1210.0 C423.7,1224.7 423.7,1233.3 424.0,1238.0" fill="none" stroke="#ccf7dc" stroke-width="1.5" stroke-dasharray="5.5 3" stroke-linecap="round"/>
  <path d="M984.0,671.0 C987.8,684.0 1000.3,727.5 1007.0,749.0 C1013.7,770.5 1018.3,781.5 1024.0,800.0 C1029.7,818.5 1035.3,840.0 1041.0,860.0 C1046.7,880.0 1052.8,900.0 1058.0,920.0 C1063.2,940.0 1068.0,963.3 1072.0,980.0 C1076.0,996.7 1079.3,1008.3 1082.0,1020.0 C1084.7,1031.7 1086.7,1042.3 1088.0,1050.0 C1089.3,1057.7 1089.7,1063.3 1090.0,1066.0 L1104.0,1081.0 C1106.0,1080.2 1113.0,1078.8 1116.0,1076.0 C1119.0,1073.2 1120.7,1068.3 1122.0,1064.0 C1123.3,1059.7 1124.3,1057.3 1124.0,1050.0 C1123.7,1042.7 1122.3,1031.7 1120.0,1020.0 C1117.7,1008.3 1114.3,996.7 1110.0,980.0 C1105.7,963.3 1099.5,940.0 1094.0,920.0 C1088.5,900.0 1082.5,880.0 1077.0,860.0 C1071.5,840.0 1066.7,818.5 1061.0,800.0 C1055.3,781.5 1049.7,771.0 1043.0,749.0 C1036.3,727.0 1024.7,681.5 1021.0,668.0 Z" fill="#17924a"/>
  <path d="M998.8,669.8 C1000.5,675.8 1005.6,693.7 1009.0,705.6 C1012.4,717.6 1015.6,729.6 1019.3,741.4 C1022.9,753.3 1027.0,765.0 1030.9,776.8 C1034.7,788.6 1038.7,800.4 1042.2,812.3 C1045.7,824.2 1048.8,836.2 1052.1,848.2 C1055.5,860.1 1058.8,872.1 1062.2,884.0 C1065.6,896.0 1069.2,907.9 1072.3,919.9 C1075.5,931.9 1078.3,944.0 1081.3,956.0 C1084.2,968.1 1087.3,980.1 1090.2,992.2 C1093.1,1004.2 1096.6,1016.2 1098.7,1028.4 C1100.8,1040.6 1102.1,1059.1 1102.8,1065.2 L1115.6,1064.4 C1115.3,1058.3 1115.3,1039.7 1113.5,1027.5 C1111.8,1015.3 1108.1,1003.3 1105.2,991.2 C1102.3,979.1 1099.0,967.1 1095.9,955.1 C1092.8,943.1 1089.8,931.0 1086.5,919.0 C1083.3,907.0 1079.7,895.1 1076.4,883.2 C1073.0,871.2 1069.7,859.2 1066.4,847.3 C1063.1,835.3 1060.2,823.2 1056.6,811.3 C1053.1,799.4 1049.0,787.6 1045.2,775.8 C1041.3,764.0 1037.1,752.3 1033.4,740.5 C1029.8,728.6 1026.8,716.5 1023.5,704.5 C1020.2,692.6 1015.3,674.6 1013.6,668.6 Z" fill="#4fbd84" opacity=".35" filter="url(#blur1)"/>
  <path d="M1021.0,668.0 C1024.7,681.5 1036.3,727.0 1043.0,749.0 C1049.7,771.0 1055.3,781.5 1061.0,800.0 C1066.7,818.5 1071.5,840.0 1077.0,860.0 C1082.5,880.0 1088.5,900.0 1094.0,920.0 C1099.5,940.0 1105.7,963.3 1110.0,980.0 C1114.3,996.7 1117.7,1008.3 1120.0,1020.0 C1122.3,1031.7 1123.7,1042.7 1124.0,1050.0 C1124.3,1057.3 1123.3,1059.7 1122.0,1064.0 C1120.7,1068.3 1119.0,1073.2 1116.0,1076.0 C1113.0,1078.8 1106.0,1080.2 1104.0,1081.0" fill="none" stroke="#0c6a34" stroke-width="1.6" opacity=".5"/>
  <path d="M1090.0,1066.0 L1104.0,1081.0 L1062.0,1081.0 L1075.0,1072.0 Z" fill="#158a45"/>
  <path d="M1044.0,1056.0 L1088.0,1052.0 L1090.0,1066.0 L1062.0,1079.0 L1050.0,1072.0 Z" fill="#b9c9c2"/>
  <path d="M996.0,676.0 C999.7,688.7 1011.5,731.0 1018.0,752.0 C1024.5,773.0 1029.3,783.7 1035.0,802.0 C1040.7,820.3 1046.3,842.0 1052.0,862.0 C1057.7,882.0 1063.8,902.0 1069.0,922.0 C1074.2,942.0 1079.0,965.3 1083.0,982.0 C1087.0,998.7 1090.3,1010.3 1093.0,1022.0 C1095.7,1033.7 1097.7,1043.3 1099.0,1052.0 C1100.3,1060.7 1100.7,1070.3 1101.0,1074.0" fill="none" stroke="#ccf7dc" stroke-width="1.5" stroke-dasharray="5.5 3" stroke-linecap="round"/>
</g>
<g id="inset">
  <g clip-path="url(#circClip)">
  <rect x="950" y="190" width="420" height="420" fill="#ffffff"/>
  <path d="M1129.0,310.0 L1320.0,294.0 L1370.0,420.0 L1370.0,610.0 L1160.0,610.0 L1150.0,450.0 Z" fill="#fafbfa"/>
  <path d="M1074.0,325.0 C1081.7,325.1 1102.3,325.3 1120.0,325.5 C1137.7,325.7 1169.0,325.4 1180.0,326.0 C1191.0,326.6 1184.7,327.5 1186.0,329.0 C1187.3,330.5 1187.7,334.0 1188.0,335.0 L1188.0,360.0 C1180.5,360.0 1156.0,360.7 1143.0,360.0 C1130.0,359.3 1122.8,356.3 1110.0,356.0 C1097.2,355.7 1073.3,357.7 1066.0,358.0 Z" fill="#17894a"/>
  <path d="M1100.0,325.0 L1180.0,326.0 L1186.0,329.0 L1188.0,335.0 L1188.0,342.0 L1100.0,338.0 Z" fill="#0f7038" opacity=".5"/>
  <path d="M1070.0,351.0 C1075.0,350.7 1095.0,349.3 1100.0,349.0" fill="none" stroke="#c4f5d6" stroke-width="1.2" stroke-dasharray="4 2.5" stroke-linecap="round"/>
  <path d="M1143.0,354.0 C1150.2,353.8 1178.8,353.2 1186.0,353.0" fill="none" stroke="#c4f5d6" stroke-width="1.2" stroke-dasharray="4 2.5" stroke-linecap="round"/>
  <path d="M1143,361.5 L1188,361.5" fill="none" stroke="#9fd5b0" stroke-width="2"/>
  <path d="M1143.0,363.0 L1188.0,363.0 L1182.0,480.0 L1172.0,600.0 L1165.0,600.0 Z" fill="#f8f9f8"/>
  <path d="M1085.0,301.0 C1092.0,300.0 1111.2,296.8 1127.0,295.0 C1142.8,293.2 1159.5,292.0 1180.0,290.0 C1200.5,288.0 1223.3,285.7 1250.0,283.0 C1276.7,280.3 1325.0,275.5 1340.0,274.0 L1345.0,292.0 C1329.2,293.6 1277.5,299.0 1250.0,301.7 C1222.5,304.4 1199.5,306.3 1180.0,308.0 C1160.5,309.7 1148.0,310.2 1133.0,311.7 C1118.0,313.2 1097.2,316.1 1090.0,317.0 Z" fill="#2a8f55"/>
  <path d="M1088.0,310.6 C1095.1,309.7 1115.3,306.7 1130.6,305.0 C1145.9,303.4 1160.1,302.6 1180.0,300.8 C1199.9,299.0 1222.8,296.9 1250.0,294.2 C1277.2,291.6 1327.5,286.4 1343.0,284.8 L1345.0,292.0 C1329.2,293.6 1277.5,299.0 1250.0,301.7 C1222.5,304.4 1199.5,306.3 1180.0,308.0 C1160.5,309.7 1148.0,310.2 1133.0,311.7 C1118.0,313.2 1097.2,316.1 1090.0,317.0 Z" fill="#1f7443"/>
  <path d="M1085.0,296.0 C1091.3,295.0 1107.2,291.8 1123.0,290.0 C1138.8,288.2 1158.8,287.0 1180.0,285.0 C1201.2,283.0 1223.3,280.7 1250.0,278.0 C1276.7,275.3 1325.0,270.5 1340.0,269.0 L1340.0,274.0 C1325.0,275.5 1276.7,280.3 1250.0,283.0 C1223.3,285.7 1200.5,288.0 1180.0,290.0 C1159.5,292.0 1142.8,293.2 1127.0,295.0 C1111.2,296.8 1092.0,300.0 1085.0,301.0 Z" fill="#7fcfa0"/>
  <path d="M1085.0,262.0 C1092.7,261.9 1115.2,262.2 1131.0,261.7 C1146.8,261.2 1160.2,260.0 1180.0,259.0 C1199.8,258.0 1225.0,257.0 1250.0,255.8 C1275.0,254.6 1316.7,252.6 1330.0,252.0 L1340.0,269.0 C1325.0,270.5 1276.7,275.3 1250.0,278.0 C1223.3,280.7 1201.2,283.0 1180.0,285.0 C1158.8,287.0 1138.8,288.2 1123.0,290.0 C1107.2,291.8 1091.3,295.0 1085.0,296.0 Z" fill="#17924a"/>
  <path d="M1128.8,269.6 C1137.3,269.1 1159.8,267.5 1180.0,266.3 C1200.2,265.0 1224.5,263.6 1250.0,262.0 C1275.5,260.4 1319.0,257.6 1332.8,256.8" fill="none" stroke="#d9f3e0" stroke-width="1.2" stroke-dasharray="4 2.5" stroke-linecap="round"/>
  <path d="M1125.0,282.9 C1134.2,282.2 1159.2,280.2 1180.0,278.5 C1200.8,276.8 1223.8,274.7 1250.0,272.4 C1276.2,270.2 1322.9,266.0 1337.5,264.8" fill="none" stroke="#d9f3e0" stroke-width="1.2" stroke-dasharray="4 2.5" stroke-linecap="round"/>
  <path d="M1105.0,262.0 L1108.0,256.0 L1116.0,254.0 L1127.0,254.5 L1132.0,258.0 L1131.0,263.0 L1112.0,264.0 Z" fill="#a9a29a"/>
  <path d="M1110,257 L1126,256 L1130,262" fill="none" stroke="#5e564c" stroke-width="1.5"/>
  <path d="M1056.7,268.0 C1056.1,273.3 1054.1,291.3 1053.0,300.0 C1051.9,308.7 1051.9,310.5 1050.0,320.0 C1048.1,329.5 1045.0,342.5 1041.7,357.0 C1038.4,371.5 1033.6,390.3 1030.0,407.0 C1026.4,423.7 1022.8,443.2 1020.0,457.0 C1017.2,470.8 1016.0,476.2 1013.0,490.0 C1010.0,503.8 1005.8,522.5 1002.0,540.0 C998.2,557.5 992.0,585.8 990.0,595.0 L1014.0,600.0 C1016.2,590.0 1023.0,558.3 1027.0,540.0 C1031.0,521.7 1035.0,503.8 1038.0,490.0 C1041.0,476.2 1042.2,470.8 1045.0,457.0 C1047.8,443.2 1051.7,423.7 1055.0,407.0 C1058.3,390.3 1062.0,371.0 1065.0,357.0 C1068.0,343.0 1071.7,328.7 1073.0,323.0 Z" fill="#17924a"/>
  <path d="M1069.0,330.0 C1067.5,336.0 1063.2,352.7 1060.0,366.0 C1056.8,379.3 1053.3,394.8 1050.0,410.0 C1046.7,425.2 1042.8,443.7 1040.0,457.0 C1037.2,470.3 1036.0,476.2 1033.0,490.0 C1030.0,503.8 1025.8,522.3 1022.0,540.0 C1018.2,557.7 1012.0,586.7 1010.0,596.0" fill="none" stroke="#c4f5d6" stroke-width="1.2" stroke-dasharray="4 2.5" stroke-linecap="round"/>
  <path d="M1056.7,268.0 L1064.0,265.0 L1066.0,275.0 L1078.0,295.0 L1079.0,321.5 L1048.0,321.5 L1053.0,300.0 Z" fill="#1a9650"/>
  <path d="M1048,321.5 L1079,321.5" fill="none" stroke="#0e6a33" stroke-width="1"/>
  <path d="M1064.0,262.0 C1066.7,261.2 1075.2,258.2 1080.0,257.0 C1084.8,255.8 1089.7,254.2 1093.0,255.0 C1096.3,255.8 1097.5,257.5 1100.0,262.0 C1102.5,266.5 1104.7,274.5 1108.0,282.0 C1111.3,289.5 1116.0,299.0 1120.0,307.0 C1124.0,315.0 1129.0,321.7 1132.0,330.0 C1135.0,338.3 1136.2,347.0 1138.0,357.0 C1139.8,367.0 1141.0,379.0 1143.0,390.0 C1145.0,401.0 1147.7,411.8 1150.0,423.0 C1152.3,434.2 1154.9,445.8 1157.0,457.0 C1159.1,468.2 1160.3,476.2 1162.5,490.0 C1164.7,503.8 1167.4,521.7 1170.0,540.0 C1172.6,558.3 1176.7,590.0 1178.0,600.0 L1155.0,600.0 C1153.5,590.0 1148.8,558.3 1146.0,540.0 C1143.2,521.7 1140.3,503.8 1138.0,490.0 C1135.7,476.2 1133.8,468.2 1132.0,457.0 C1130.2,445.8 1129.0,434.2 1127.0,423.0 C1125.0,411.8 1122.3,401.0 1120.0,390.0 C1117.7,379.0 1115.8,367.5 1113.0,357.0 C1110.2,346.5 1106.8,335.3 1103.0,327.0 C1099.2,318.7 1094.2,312.3 1090.0,307.0 C1085.8,301.7 1082.2,301.7 1078.0,295.0 C1073.8,288.3 1067.2,271.7 1065.0,267.0 Z" fill="#17954c"/>
  <path d="M1082.5,293.1 C1084.5,295.4 1090.4,301.3 1094.5,307.0 C1098.6,312.7 1103.6,319.1 1107.3,327.4 C1111.1,335.8 1114.1,346.6 1116.8,357.0 C1119.4,367.4 1121.2,379.0 1123.5,390.0 C1125.7,401.0 1128.4,411.8 1130.4,423.0 C1132.5,434.2 1133.9,445.8 1135.8,457.0 C1137.6,468.2 1139.4,476.2 1141.7,490.0 C1144.0,503.8 1146.8,521.7 1149.6,540.0 C1152.4,558.3 1157.0,590.0 1158.5,600.0 L1166.5,600.0 C1165.1,590.0 1160.7,558.3 1158.0,540.0 C1155.3,521.7 1152.5,503.8 1150.2,490.0 C1148.0,476.2 1146.5,468.2 1144.5,457.0 C1142.5,445.8 1140.7,434.2 1138.5,423.0 C1136.3,411.8 1133.7,401.0 1131.5,390.0 C1129.3,379.0 1127.8,367.2 1125.5,357.0 C1123.2,346.8 1120.9,336.8 1117.5,328.5 C1114.1,320.2 1109.1,313.7 1105.0,307.0 C1100.9,300.3 1095.0,291.6 1093.0,288.5 Z" fill="#52c088" opacity=".35" filter="url(#blur1)"/>
  <path d="M1078.0,262.0 C1080.7,262.3 1089.8,260.3 1094.0,264.0 C1098.2,267.7 1099.7,276.5 1103.0,284.0 C1106.3,291.5 1110.2,300.8 1114.0,309.0 C1117.8,317.2 1123.0,324.8 1126.0,333.0 C1129.0,341.2 1130.2,348.5 1132.0,358.0 C1133.8,367.5 1135.0,379.2 1137.0,390.0 C1139.0,400.8 1141.7,411.8 1144.0,423.0 C1146.3,434.2 1148.9,445.8 1151.0,457.0 C1153.1,468.2 1154.3,476.2 1156.5,490.0 C1158.7,503.8 1161.4,522.0 1164.0,540.0 C1166.6,558.0 1170.7,588.3 1172.0,598.0" fill="none" stroke="#ccf7dc" stroke-width="1.2" stroke-dasharray="4 2.5" stroke-linecap="round"/>
  </g>
  <circle cx="1158" cy="399.5" r="198" fill="none" stroke="#2b9152" stroke-width="8"/>
</g>
<g id="arrows">
  <path d="M145.2,671.7 L145.2,670.6 L145.1,669.3 L144.9,667.9 L144.8,666.3 L144.5,664.6 L144.3,662.7 L144.0,660.7 L143.7,658.6 L143.3,656.3 L143.0,654.0 L142.7,651.6 L142.4,649.0 L141.9,646.3 L141.3,643.3 L140.6,640.2 L140.0,636.9 L139.3,633.5 L138.6,630.0 L138.0,626.5 L137.4,623.0 L136.8,619.5 L136.4,616.0 L136.0,612.7 L135.7,609.4 L135.4,606.2 L135.2,603.0 L135.1,599.7 L135.0,596.5 L134.9,593.3 L134.9,590.0 L135.0,586.8 L135.1,583.5 L135.3,580.3 L135.4,577.0 L135.7,573.8 L136.0,570.5 L136.3,567.3 L136.7,564.1 L137.2,560.9 L137.7,557.6 L138.2,554.4 L138.8,551.1 L139.5,547.8 L140.2,544.6 L140.9,541.3 L141.6,538.0 L142.3,534.7 L143.1,531.4 L143.9,528.1 L144.7,524.7 L145.5,521.3 L146.4,517.9 L147.3,514.4 L148.2,511.0 L149.2,507.7 L150.1,504.3 L151.1,501.1 L152.0,497.9 L153.0,494.9 L153.9,492.0 L154.9,489.2 L155.8,486.5 L156.7,483.8 L157.7,481.3 L158.7,478.8 L159.7,476.3 L160.6,473.9 L161.6,471.6 L162.6,469.2 L163.6,466.9 L164.6,464.6 L165.5,462.4 L166.5,460.1 L167.5,457.8 L168.5,455.5 L169.6,453.2 L170.7,450.9 L171.7,448.7 L172.7,446.5 L173.6,444.6 L174.5,442.7 L175.2,441.1 L175.9,439.7 L176.4,438.5 L165.6,433.5 L165.0,434.6 L164.4,436.0 L163.6,437.6 L162.8,439.4 L161.8,441.4 L160.8,443.6 L159.8,445.8 L158.7,448.2 L157.6,450.5 L156.5,452.9 L155.5,455.3 L154.5,457.6 L153.5,459.9 L152.5,462.1 L151.5,464.4 L150.4,466.8 L149.4,469.2 L148.3,471.7 L147.3,474.2 L146.2,476.8 L145.2,479.5 L144.1,482.2 L143.1,485.1 L142.1,488.0 L141.1,491.1 L140.1,494.2 L139.1,497.5 L138.1,500.8 L137.1,504.3 L136.2,507.7 L135.2,511.2 L134.3,514.7 L133.4,518.2 L132.5,521.7 L131.7,525.2 L130.9,528.6 L130.2,532.0 L129.5,535.3 L128.8,538.7 L128.1,542.1 L127.4,545.5 L126.8,548.9 L126.2,552.3 L125.7,555.7 L125.2,559.1 L124.7,562.6 L124.3,566.0 L124.0,569.5 L123.8,572.9 L123.6,576.3 L123.4,579.7 L123.3,583.1 L123.2,586.6 L123.2,590.0 L123.2,593.4 L123.3,596.8 L123.5,600.3 L123.7,603.7 L123.9,607.1 L124.3,610.6 L124.8,614.1 L125.4,617.7 L126.1,621.4 L126.9,625.0 L127.7,628.6 L128.6,632.2 L129.5,635.7 L130.4,639.1 L131.3,642.4 L132.1,645.5 L132.9,648.3 L133.6,651.0 L134.5,653.5 L135.3,655.9 L136.2,658.2 L137.1,660.4 L137.9,662.4 L138.7,664.3 L139.5,666.0 L140.3,667.6 L141.0,669.1 L141.7,670.3 L142.3,671.4 L142.8,672.3 Z" fill="#2b9354"/>
  <circle cx="171" cy="436" r="6" fill="#2b9354"/>
  <path d="M147,442 C158,432 168,422 177,413 Q181,411 183,417 C187,433 191,450 194,466" fill="none" stroke="#2b9354" stroke-width="12" stroke-linecap="round" stroke-linejoin="round"/>
  <path d="M1104.8,913.7 L1106.6,914.2 L1108.9,914.7 L1111.5,915.2 L1114.5,915.8 L1117.6,916.3 L1121.0,917.0 L1124.5,917.6 L1128.0,918.3 L1131.5,919.1 L1134.8,920.0 L1138.0,920.9 L1140.9,921.8 L1143.8,922.7 L1146.6,923.6 L1149.4,924.7 L1152.2,925.7 L1154.9,926.9 L1157.7,928.1 L1160.5,929.3 L1163.2,930.6 L1166.0,932.0 L1168.8,933.4 L1171.5,934.8 L1174.3,936.3 L1177.1,937.7 L1179.9,939.3 L1182.7,940.9 L1185.5,942.5 L1188.4,944.2 L1191.2,945.9 L1194.0,947.7 L1196.9,949.5 L1199.7,951.4 L1202.6,953.2 L1205.4,955.1 L1208.3,957.0 L1211.2,958.9 L1214.0,960.8 L1216.9,962.7 L1219.8,964.6 L1222.6,966.6 L1225.5,968.5 L1228.3,970.5 L1231.1,972.6 L1234.0,974.6 L1236.8,976.8 L1239.6,978.9 L1242.4,981.2 L1245.3,983.5 L1248.2,985.9 L1251.1,988.5 L1254.1,991.1 L1257.1,993.7 L1260.1,996.4 L1263.0,999.1 L1265.9,1001.8 L1268.7,1004.4 L1271.5,1007.0 L1274.2,1009.6 L1276.7,1012.0 L1279.1,1014.4 L1281.6,1017.0 L1284.1,1019.6 L1286.6,1022.2 L1289.0,1024.8 L1291.3,1027.3 L1293.5,1029.7 L1295.5,1032.0 L1297.4,1034.1 L1299.1,1035.9 L1300.6,1037.6 L1301.8,1038.9 L1310.2,1031.1 L1309.1,1029.8 L1307.6,1028.2 L1306.0,1026.4 L1304.1,1024.3 L1302.0,1022.0 L1299.8,1019.5 L1297.4,1017.0 L1295.0,1014.3 L1292.4,1011.6 L1289.9,1009.0 L1287.3,1006.3 L1284.7,1003.8 L1282.1,1001.3 L1279.4,998.7 L1276.6,996.0 L1273.8,993.3 L1270.8,990.6 L1267.8,987.9 L1264.8,985.1 L1261.7,982.4 L1258.6,979.8 L1255.6,977.2 L1252.6,974.6 L1249.6,972.2 L1246.6,969.9 L1243.7,967.7 L1240.7,965.5 L1237.7,963.4 L1234.8,961.3 L1231.8,959.3 L1228.9,957.3 L1226.0,955.3 L1223.0,953.4 L1220.1,951.5 L1217.2,949.7 L1214.3,947.8 L1211.4,945.9 L1208.5,944.1 L1205.6,942.2 L1202.7,940.4 L1199.7,938.6 L1196.8,936.8 L1193.9,935.0 L1190.9,933.3 L1188.0,931.6 L1185.0,930.0 L1182.0,928.4 L1179.1,926.9 L1176.1,925.5 L1173.1,924.2 L1170.2,922.9 L1167.2,921.6 L1164.3,920.4 L1161.3,919.3 L1158.3,918.2 L1155.3,917.1 L1152.3,916.1 L1149.3,915.2 L1146.2,914.4 L1143.1,913.6 L1139.7,913.0 L1136.2,912.6 L1132.6,912.2 L1128.9,911.9 L1125.2,911.7 L1121.6,911.5 L1118.2,911.4 L1114.9,911.3 L1111.9,911.2 L1109.2,911.2 L1107.0,911.2 L1105.2,911.3 Z" fill="#2b9354"/>
  <circle cx="1306" cy="1035" r="5.7" fill="#2b9354"/>
  <path d="M1271,1044 C1290,1048 1308,1052 1322,1055 Q1328,1055 1326,1048 C1321,1035 1317,1023 1314,1012" fill="none" stroke="#2b9354" stroke-width="11" stroke-linecap="round" stroke-linejoin="round"/>
</g>
<g id="texts" style="opacity:.999">
  <text class="t" x="149" y="312.5" font-size="62" textLength="400" lengthAdjust="spacingAndGlyphs" >*UNIQUE DESIGN</text>
  <text class="t" x="332" y="433" font-size="62" textLength="468" lengthAdjust="spacingAndGlyphs" >*QUALITY PRINTING</text>
  <text class="t" x="781" y="1250.5" font-size="62" textLength="640" lengthAdjust="spacingAndGlyphs" >*PVC WATERPROOF DESIGN</text>
  <text class="t" x="917" y="1355.5" font-size="62" textLength="374" lengthAdjust="spacingAndGlyphs" >*TRANSPARENT</text>
  <path id="arcp" d="M1040.9,212.1 A221,221 0 0 1 1376.8,368.7" fill="none"/>
  <text class="t" font-size="44" style="stroke-width:.5px" textLength="436" lengthAdjust="spacingAndGlyphs"><textPath href="#arcp" textLength="436" lengthAdjust="spacingAndGlyphs">QUALITY ZIPPER CLOSING</textPath></text>
</g>
</svg>
</body>
</html>
